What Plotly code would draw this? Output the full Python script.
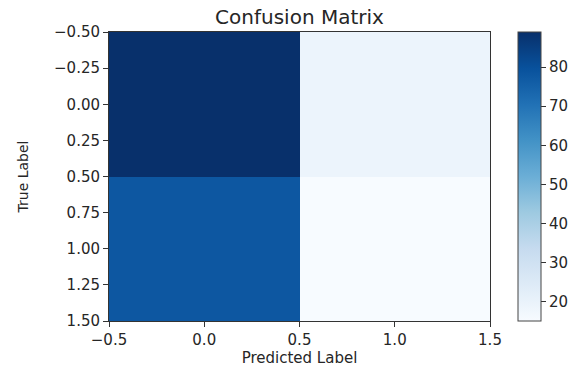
import plotly.graph_objects as go

# Data
pred_labels = [0, 1]
true_labels = [0, 1]
counts = [[89, 19],
          [78, 15]]
x_tick_vals = [-0.5, 0.0, 0.5, 1.0, 1.5]
x_tick_text = ["\u22120.5", "0.0", "0.5", "1.0", "1.5"]
y_tick_vals = [-0.5, -0.25, 0.0, 0.25, 0.5, 0.75, 1.0, 1.25, 1.5]
y_tick_text = ["\u22120.50", "\u22120.25", "0.00", "0.25", "0.50", "0.75", "1.00", "1.25", "1.50"]
cb_tick_vals = [20, 30, 40, 50, 60, 70, 80]

blues = ['#f7fbff', '#deebf7', '#c6dbef', '#9ecae1', '#6baed6',
         '#4292c6', '#2171b5', '#08519c', '#08306b']
colorscale = [[i / (len(blues) - 1), c] for i, c in enumerate(blues)]

W, H = 586, 367
L, R, T, B = 109, 96, 32, 46
plot_w = W - L - R

font_family = "DejaVu Sans"
txt = "#262626"

fig = go.Figure(go.Heatmap(
    x=pred_labels, y=true_labels, z=counts,
    colorscale=colorscale, zmin=15, zmax=89,
    xgap=0, ygap=0,
    colorbar=dict(
        x=(518 - L) / plot_w, xanchor="left", xpad=0,
        y=0.5, yanchor="middle", len=1.0, lenmode="fraction", ypad=0,
        thickness=23, thicknessmode="pixels",
        outlinecolor="#444", outlinewidth=1,
        tickvals=cb_tick_vals, ticks="outside", ticklen=5, tickcolor="#333",
        tickfont=dict(family=font_family, size=15, color=txt),
    ),
))

fig.update_layout(
    width=W, height=H,
    margin=dict(l=L, r=R, t=T, b=B, autoexpand=False),
    paper_bgcolor="white", plot_bgcolor="white",
    font=dict(family=font_family, color=txt),
    title=dict(text="Confusion Matrix", x=(L + plot_w / 2) / W, xanchor="center",
               y=1 - 17 / H, yanchor="middle", yref="container",
               font=dict(size=20, color=txt)),
    xaxis=dict(range=[-0.5, 1.5], tickvals=x_tick_vals, ticktext=x_tick_text,
               automargin=False,
               ticks="outside", ticklen=5, tickcolor="#333",
               showline=True, mirror=True, linecolor="#333", linewidth=1,
               showgrid=False, zeroline=False,
               tickfont=dict(size=15, color=txt),
               title=dict(text="Predicted Label", font=dict(size=15, color=txt), standoff=2)),
    yaxis=dict(range=[1.5, -0.5], tickvals=y_tick_vals, ticktext=y_tick_text,
               automargin=False,
               ticks="outside", ticklen=5, tickcolor="#333",
               showline=True, mirror=True, linecolor="#333", linewidth=1,
               showgrid=False, zeroline=False,
               tickfont=dict(size=15, color=txt),
               title=dict(text="True Label", font=dict(size=14, color=txt), standoff=22)),
)

fig.write_html("out.html", config={"displayModeBar": False},
               post_script="document.body.style.margin='0';document.body.style.padding='0';")
